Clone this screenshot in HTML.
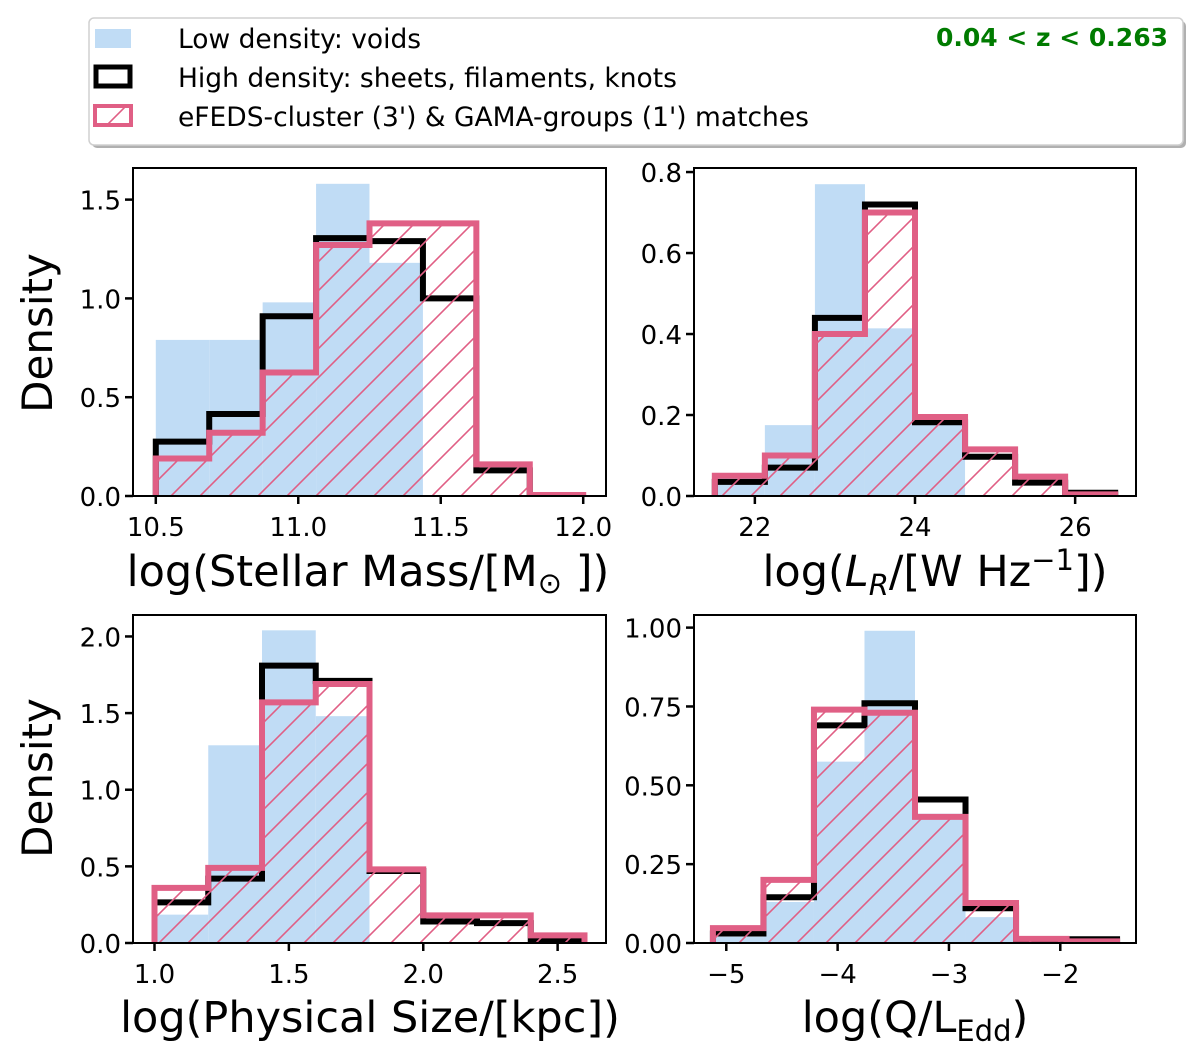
<!DOCTYPE html>
<html><head><meta charset="utf-8"><style>
html,body{margin:0;padding:0;background:#fff;}
svg{display:block;font-family:"DejaVu Sans","Liberation Sans",sans-serif;}
</style></head><body>
<svg id="fig" width="1200" height="1061" viewBox="0 0 1200 1061" xmlns="http://www.w3.org/2000/svg">
<defs>
<pattern id="hatch" patternUnits="userSpaceOnUse" width="29" height="29">
<path d="M-2,2 L2,-2 M0,29 L29,0 M27,31 L31,27" stroke="#e05f85" stroke-width="1.6"/>
</pattern>
</defs>
<g id="legend">
<rect x="92" y="21" width="1094" height="127" rx="5" fill="#b0b0b0"/>
<rect x="89" y="18" width="1094" height="127" rx="5" fill="#fff" stroke="#d0d0d0" stroke-width="1.5"/>
<rect x="95" y="29" width="36" height="19" fill="#c0dcf5"/>
<text x="178" y="48" font-size="26.5">Low density: voids</text>
<rect x="96" y="67" width="34" height="19" fill="#fff" stroke="#000" stroke-width="5"/>
<text x="178" y="87" font-size="26.5">High density: sheets, filaments, knots</text>
<rect x="95" y="106" width="36" height="19" fill="url(#hatch)" stroke="#e05f85" stroke-width="4"/>
<text x="178" y="126" font-size="26.5">eFEDS-cluster (3') &amp; GAMA-groups (1') matches</text>
<text x="1168" y="46" font-size="25" font-weight="bold" fill="#007b00" text-anchor="end">0.04 &lt; z &lt; 0.263</text>
</g>
<text transform="translate(52,333) rotate(-90)" font-size="42" text-anchor="middle">Density</text>
<text transform="translate(52,778) rotate(-90)" font-size="42" text-anchor="middle">Density</text>
<text x="368" y="586" font-size="43" text-anchor="middle">log(Stellar Mass/[M<tspan font-size="29" dy="7">⊙</tspan><tspan dy="-7"> ])</tspan></text>
<text x="935" y="586" font-size="43" text-anchor="middle">log(<tspan font-style="italic">L</tspan><tspan font-size="29" font-style="italic" dy="9">R</tspan><tspan dy="-9">/[W Hz</tspan><tspan font-size="29" dy="-16">−1</tspan><tspan dy="16">])</tspan></text>
<text x="370" y="1032" font-size="43" text-anchor="middle">log(Physical Size/[kpc])</text>
<text x="915" y="1032" font-size="43" text-anchor="middle">log(Q/L<tspan font-size="29" dy="9">Edd</tspan><tspan dy="-9">)</tspan></text>
</svg>
<script>
// Panel A: stellar mass
const massEdgesRange = [10.5, 12.0];
const massVoids = [0.79, 0.79, 0.98, 1.58, 1.18, 0, 0, 0];
const massHigh = [0.275, 0.415, 0.91, 1.305, 1.29, 1.0, 0.13, 0];
const massMatch = [0.19, 0.32, 0.625, 1.27, 1.38, 1.38, 0.16, 0.005];
const massXTicks = [10.5, 11.0, 11.5, 12.0];
const massXTickLabels = ["10.5", "11.0", "11.5", "12.0"];
const massYTicks = [0, 0.5, 1.0, 1.5];
const massYTickLabels = ["0.0", "0.5", "1.0", "1.5"];
// Panel B: radio luminosity
const lumEdgesRange = [21.5, 26.5];
const lumVoids = [0.05, 0.175, 0.77, 0.414, 0.183, 0, 0, 0];
const lumHigh = [0.035, 0.07, 0.44, 0.72, 0.182, 0.097, 0.033, 0.008];
const lumMatch = [0.05, 0.1, 0.4, 0.7, 0.195, 0.115, 0.048, 0.004];
const lumXTicks = [22, 24, 26];
const lumXTickLabels = ["22", "24", "26"];
const lumYTicks = [0, 0.2, 0.4, 0.6, 0.8];
const lumYTickLabels = ["0.0", "0.2", "0.4", "0.6", "0.8"];
// Panel C: physical size
const sizeEdgesRange = [1.0, 2.6];
const sizeVoids = [0.185, 1.29, 2.04, 1.48, 0, 0, 0, 0];
const sizeHigh = [0.265, 0.42, 1.81, 1.71, 0.47, 0.14, 0.13, 0.02];
const sizeMatch = [0.36, 0.49, 1.57, 1.69, 0.48, 0.18, 0.18, 0.05];
const sizeXTicks = [1.0, 1.5, 2.0, 2.5];
const sizeXTickLabels = ["1.0", "1.5", "2.0", "2.5"];
const sizeYTicks = [0, 0.5, 1.0, 1.5, 2.0];
const sizeYTickLabels = ["0.0", "0.5", "1.0", "1.5", "2.0"];
// Panel D: Eddington ratio
const eddEdgesRange = [-5.12, -1.49];
const eddVoids = [0.02, 0.13, 0.575, 0.99, 0.41, 0.082, 0, 0];
const eddHigh = [0.03, 0.145, 0.69, 0.76, 0.455, 0.11, 0.01, 0.012];
const eddMatch = [0.047, 0.2, 0.74, 0.73, 0.4, 0.127, 0.013, 0.005];
const eddXTicks = [-5, -4, -3, -2];
const eddXTickLabels = ["\u22125", "\u22124", "\u22123", "\u22122"];
const eddYTicks = [0, 0.25, 0.5, 0.75, 1.0];
const eddYTickLabels = ["0.00", "0.25", "0.50", "0.75", "1.00"];

const NS = "http://www.w3.org/2000/svg";
const svg = document.getElementById("fig");
function mk(tag, attrs, parent) {
  const e = document.createElementNS(NS, tag);
  for (const k in attrs) e.setAttribute(k, attrs[k]);
  (parent || svg).appendChild(e);
  return e;
}
function panel(cfg) {
  const g = mk("g", {});
  
  
  const L = cfg.box[0], T = cfg.box[1], R = cfg.box[2], B = cfg.box[3];
  const xs = v => L + (v - cfg.xlim[0]) / (cfg.xlim[1] - cfg.xlim[0]) * (R - L);
  const ys = v => B - (v - cfg.ylim[0]) / (cfg.ylim[1] - cfg.ylim[0]) * (B - T);
  const n = cfg.voids.length;
  const e0 = cfg.range[0], w = (cfg.range[1] - cfg.range[0]) / n;
  const edge = i => xs(e0 + i * w);
  cfg.voids.forEach((v, i) => {
    if (v <= 0) return;
    const r = mk("rect", {x: edge(i), y: ys(v), width: edge(i + 1) - edge(i), height: ys(0) - ys(v), fill: "#c0dcf5"}, g);
    
    
  });
  function stepPath(vals) {
    let d = "M" + edge(0) + "," + ys(0);
    vals.forEach((v, i) => { d += " L" + edge(i) + "," + ys(v) + " L" + edge(i + 1) + "," + ys(v); });
    d += " L" + edge(n) + "," + ys(0);
    return d;
  }
  const hp = mk("path", {d: stepPath(cfg.high), fill: "none", stroke: "#000", "stroke-width": 6, "stroke-linejoin": "miter"}, g);
  
  
  const mf = mk("path", {d: stepPath(cfg.match) + " Z", fill: "url(#hatch)", stroke: "none"}, g);
  
  
  const mp = mk("path", {d: stepPath(cfg.match), fill: "none", stroke: "#e05f85", "stroke-width": 6, "stroke-linejoin": "miter"}, g);
  
  
  mk("rect", {x: L - 5, y: B + 1, width: R - L + 10, height: 6, fill: "#fff"}, g);
  const fr = mk("rect", {x: L, y: T, width: R - L, height: B - T, fill: "none", stroke: "#000", "stroke-width": 2}, g);
  
  
  cfg.xticks.forEach((t, i) => {
    const x = xs(t);
    mk("line", {x1: x, x2: x, y1: B, y2: B + 8, stroke: "#000", "stroke-width": 2.5}, g);
    const tx = mk("text", {x: x, y: B + 40, "font-size": 26, "text-anchor": "middle"}, g);
    tx.textContent = cfg.xlabels[i];
    
    
  });
  cfg.yticks.forEach((t, i) => {
    const y = ys(t);
    mk("line", {x1: L - 8, x2: L, y1: y, y2: y, stroke: "#000", "stroke-width": 2.5}, g);
    const tx = mk("text", {x: L - 12, y: y + 10, "font-size": 26, "text-anchor": "end"}, g);
    tx.textContent = cfg.ylabels[i];
    
    
  });
}
panel({name: "stellar-mass-panel", box: [133, 168, 606, 496], xlim: [10.42, 12.08], ylim: [0, 1.66], range: massEdgesRange,
  voids: massVoids, high: massHigh, match: massMatch, xticks: massXTicks, xlabels: massXTickLabels, yticks: massYTicks, ylabels: massYTickLabels});
panel({name: "radio-luminosity-panel", box: [694, 168, 1136, 496], xlim: [21.24, 26.76], ylim: [0, 0.81], range: lumEdgesRange,
  voids: lumVoids, high: lumHigh, match: lumMatch, xticks: lumXTicks, xlabels: lumXTickLabels, yticks: lumYTicks, ylabels: lumYTickLabels});
panel({name: "physical-size-panel", box: [133, 615, 606, 943], xlim: [0.92, 2.68], ylim: [0, 2.14], range: sizeEdgesRange,
  voids: sizeVoids, high: sizeHigh, match: sizeMatch, xticks: sizeXTicks, xlabels: sizeXTickLabels, yticks: sizeYTicks, ylabels: sizeYTickLabels});
panel({name: "eddington-ratio-panel", box: [694, 615, 1136, 943], xlim: [-5.29, -1.32], ylim: [0, 1.04], range: eddEdgesRange,
  voids: eddVoids, high: eddHigh, match: eddMatch, xticks: eddXTicks, xlabels: eddXTickLabels, yticks: eddYTicks, ylabels: eddYTickLabels});
</script>
</body></html>
